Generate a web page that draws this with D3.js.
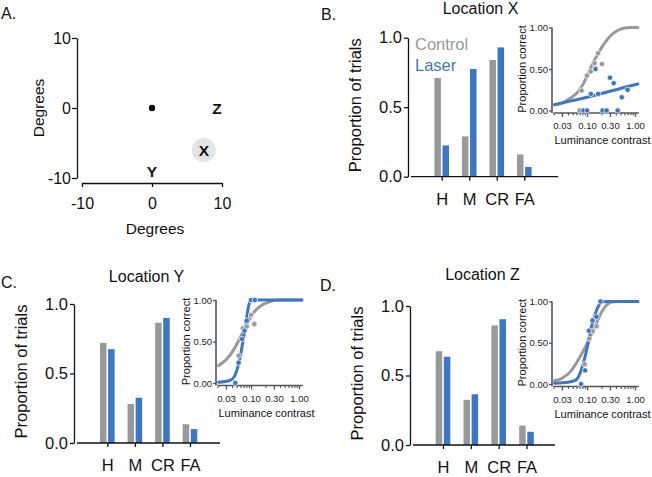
<!DOCTYPE html>
<html><head><meta charset="utf-8">
<script src="https://cdn.jsdelivr.net/npm/d3@7"></script>
<style>
body{margin:0;background:#fff}
svg{display:block;font-family:"Liberation Sans",Arial,Helvetica,sans-serif}
</style>
</head><body>
<svg id="chart" width="652" height="477"></svg>
<script>
// ---------------- data ----------------
// Panel A: map of stimulus locations (degrees)
const mapTicks = [-10, 0, 10];
const fixationX = [0];
const fixationY = [0];
const targetNames = ["X", "Y", "Z"];
const targetX = [7.4, 0, 9.3];
const targetY = [-6, -9.1, 0];
const targetHighlighted = [true, false, false];

// Bar charts: proportion of trials
const categories = ["H", "M", "CR", "FA"];
const seriesNames = ["Control", "Laser"];
const barTicks = [0, 0.5, 1.0];
const controlX = [0.71, 0.29, 0.84, 0.16];
const laserX   = [0.225, 0.775, 0.93, 0.07];
const controlY = [0.72, 0.28, 0.865, 0.135];
const laserY   = [0.675, 0.325, 0.90, 0.10];
const controlZ = [0.675, 0.325, 0.86, 0.14];
const laserZ   = [0.635, 0.365, 0.905, 0.095];

// Insets: proportion correct vs luminance contrast
const contrastTicks = [0.03, 0.1, 0.3, 1.0];
const contrastTickLabels = ["0.03", "0.10", "0.30", "1.00"];
const contrastMinorTicks = [0.02, 0.04, 0.05, 0.06, 0.07, 0.08, 0.09, 0.2, 0.4, 0.5, 0.6, 0.7, 0.8, 0.9];
const correctTicks = [0, 0.5, 1];
const correctTickLabels = ["0.00", "0.50", "1.00"];

// fitted curves: [contrast, proportion correct]
const fitControlX = [[0.021,0.07],[0.03,0.09],[0.045,0.15],[0.066,0.23],[0.085,0.33],[0.106,0.45],[0.13,0.56],[0.171,0.69],[0.23,0.81],[0.32,0.91],[0.45,0.97],[0.61,0.995],[0.8,1.0],[1.15,1.0]];
const fitLaserX   = [[0.021,0.07],[0.05,0.12],[0.1,0.16],[0.2,0.205],[0.4,0.25],[0.7,0.29],[1.15,0.32]];
const fitControlY = [[0.021,0.21],[0.03,0.28],[0.04,0.37],[0.053,0.49],[0.07,0.63],[0.085,0.73],[0.11,0.84],[0.16,0.93],[0.25,0.98],[0.36,1.0],[1.15,1.0]];
const fitLaserY   = [[0.021,0.01],[0.036,0.03],[0.045,0.08],[0.052,0.18],[0.06,0.33],[0.069,0.53],[0.079,0.74],[0.087,0.9],[0.095,0.98],[0.11,1.0],[1.15,1.0]];
const fitControlZ = [[0.021,0.04],[0.03,0.07],[0.045,0.15],[0.065,0.29],[0.085,0.41],[0.104,0.51],[0.125,0.61],[0.144,0.69],[0.175,0.80],[0.21,0.89],[0.26,0.96],[0.32,0.995],[0.45,1.0],[1.15,1.0]];
const fitLaserZ   = [[0.021,0.01],[0.04,0.02],[0.055,0.04],[0.065,0.08],[0.0755,0.17],[0.087,0.29],[0.098,0.41],[0.11,0.55],[0.123,0.69],[0.14,0.80],[0.157,0.89],[0.18,0.96],[0.2,0.995],[0.25,1.0],[1.15,1.0]];

// observed points
const ptsControlX = [[0.07,0],[0.077,0.24],[0.099,0.42],[0.119,0.47],[0.143,0.57],[0.17,0.69],[0.205,0.56]];
const ptsLaserX   = [[0.084,0],[0.10,0],[0.21,0],[0.255,0],[0.435,0],[0.15,0.5],[0.12,0.2],[0.17,0.2],[0.30,0.395],[0.36,0.33],[0.53,0.16],[0.70,0.25]];
const ptsControlY = [[0.055,0.33],[0.0675,0.66],[0.081,0.68],[0.1,0.82],[0.117,0.71]];
const ptsLaserY   = [[0.047,0],[0.055,0.245],[0.065,0.53],[0.073,0.63],[0.081,0.75],[0.1,1.0],[0.12,1.0]];
const ptsControlZ = [[0.089,0.24],[0.111,0.55],[0.131,0.64],[0.158,0.70]];
const ptsLaserZ   = [[0.075,0],[0.091,0.165],[0.109,0.645],[0.13,0.77],[0.157,0.815],[0.19,1.0]];

// ---------------- styles ----------------
const GRAY = "#999999";
const BLUE = "#3b77c4";
const FONT_BIG = 16;

const svg = d3.select("#chart");

function text(g, x, y, str, opts = {}) {
  const t = g.append("text").attr("x", x).attr("y", y).text(str)
    .attr("font-size", opts.size || FONT_BIG)
    .attr("fill", opts.fill || "#111")
    .attr("text-anchor", opts.anchor || "start");
  if (opts.weight) t.attr("font-weight", opts.weight);
  if (opts.rotate) t.attr("transform", `rotate(-90,${x},${y})`);
  if (opts.dy) t.attr("dy", opts.dy);
  return t;
}

// ---------------- Panel A ----------------
(function panelA() {
  const g = svg.append("g");
  const x = d3.scaleLinear().domain([-10, 10]).range([82, 222]);
  const y = d3.scaleLinear().domain([-10, 10]).range([178, 38]);

  text(g, 1, 19, "A.", {size: 16});

  const ya = g.append("g").attr("transform", "translate(77,0)")
    .call(d3.axisLeft(y).tickValues(mapTicks).tickFormat(d => String(d)).tickSize(5).tickSizeOuter(0).tickPadding(1));
  const xa = g.append("g").attr("transform", "translate(0,183)")
    .call(d3.axisBottom(x).tickValues(mapTicks).tickFormat(d => String(d)).tickSize(4).tickSizeOuter(0).tickPadding(11));
  [ya, xa].forEach(a => {
    a.selectAll("path,line").attr("stroke", "#111").attr("stroke-width", 1.3);
    a.selectAll("text").attr("font-size", 16).attr("fill", "#111").attr("font-family", null);
  });

  text(g, 39, 108, "Degrees", {anchor: "middle", rotate: true, dy: "0.35em", size: 15.5});
  text(g, 155, 234, "Degrees", {anchor: "middle", size: 15.5});

  // highlighted location circle
  g.selectAll("circle.hl").data(targetNames.filter((d, i) => targetHighlighted[i]))
    .enter().append("circle")
    .attr("cx", d => x(targetX[targetNames.indexOf(d)]))
    .attr("cy", d => y(targetY[targetNames.indexOf(d)]))
    .attr("r", 12).attr("fill", "#e4e4e4");

  // fixation point
  g.selectAll("circle.fix").data(fixationX).enter().append("circle")
    .attr("cx", (d) => x(d)).attr("cy", (d, i) => y(fixationY[i])).attr("r", 3.2).attr("fill", "#111");

  g.selectAll("text.loc").data(targetNames).enter().append("text")
    .attr("x", (d, i) => x(targetX[i])).attr("y", (d, i) => y(targetY[i]))
    .attr("dy", "0.36em").attr("text-anchor", "middle")
    .attr("font-size", 15.5).attr("font-weight", "bold").attr("fill", "#111")
    .text(d => d);
})();

// ---------------- Bar panels ----------------
function barPanel(cfg) {
  const g = svg.append("g");
  const y = d3.scaleLinear().domain([0, 1]).range([cfg.yBot, cfg.yTop]);
  const x = d3.scalePoint().domain(categories).range([cfg.catL, cfg.catR]);

  text(g, cfg.letterX, cfg.letterY, cfg.letter, {size: 16});
  text(g, cfg.axisX + 72.5, cfg.titleY, cfg.title, {anchor: "middle", size: 16});

  // bars
  const series = [cfg.ctrl, cfg.laser];
  const colors = [GRAY, BLUE];
  const offs = [-7.3, 0.8];
  series.forEach((vals, si) => {
    g.selectAll(null).data(categories).enter().append("rect")
      .attr("x", d => x(d) + offs[si]).attr("width", 6.5)
      .attr("y", (d, i) => y(vals[i]))
      .attr("height", (d, i) => y(0) - y(vals[i]))
      .attr("fill", colors[si]);
  });

  // y axis
  const ya = g.append("g").attr("transform", `translate(${cfg.axisX},0)`)
    .call(d3.axisLeft(y).tickValues(barTicks).tickFormat(d3.format(".1f")).tickSize(4).tickSizeOuter(0).tickPadding(2));
  ya.selectAll("path,line").attr("stroke", "#111").attr("stroke-width", 1.3);
  ya.selectAll("text").attr("font-size", 16.5).attr("fill", "#111").attr("font-family", null);

  // x axis: baseline + category ticks
  g.append("line").attr("x1", cfg.axisX + 3).attr("x2", cfg.endX)
    .attr("y1", cfg.yBot).attr("y2", cfg.yBot).attr("stroke", "#111").attr("stroke-width", 1.3);
  const xa = g.append("g").attr("transform", `translate(0,${cfg.yBot})`)
    .call(d3.axisBottom(x).tickSize(4).tickSizeOuter(0).tickPadding(12.5));
  xa.select("path.domain").remove();
  xa.selectAll("line").attr("stroke", "#111").attr("stroke-width", 1.3);
  xa.selectAll("text").attr("font-size", 16.5).attr("fill", "#111").attr("font-family", null);

  text(g, cfg.axisX - 53, (cfg.yTop + cfg.yBot) / 2 - 2, "Proportion of trials",
       {anchor: "middle", rotate: true, dy: "0.35em", size: 16.5});

  if (cfg.legend) {
    seriesNames.forEach((s, i) => {
      text(g, cfg.axisX + 7, cfg.yTop + 12.5 + i * 21, s, {fill: colors[i], size: 16.5});
    });
  }
}

// ---------------- Inset panels ----------------
function insetPanel(cfg) {
  const g = svg.append("g");
  const x = d3.scaleLog().domain([0.03, 1]).range([cfg.axisX + 10, cfg.axisX + 83]);
  const y = d3.scaleLinear().domain([0, 1]).range([cfg.yBot, cfg.yTop]);
  const xAxisY = cfg.yBot + 2.5;
  const axisColor = "#555";

  // x axis
  g.append("line").attr("x1", x(0.02)).attr("x2", x(1.2)).attr("y1", xAxisY).attr("y2", xAxisY)
    .attr("stroke", axisColor).attr("stroke-width", 1.5);
  const xaMinor = g.append("g").attr("transform", `translate(0,${xAxisY})`)
    .call(d3.axisBottom(x).tickValues(contrastMinorTicks).tickSize(2.5).tickSizeOuter(0).tickFormat(""));
  xaMinor.select("path.domain").remove();
  xaMinor.selectAll("line").attr("stroke", axisColor).attr("stroke-width", 1.1);
  const xa = g.append("g").attr("transform", `translate(0,${xAxisY})`)
    .call(d3.axisBottom(x).tickValues(contrastTicks).tickSize(4).tickSizeOuter(0)
      .tickFormat((d, i) => contrastTickLabels[i]).tickPadding(5.5));
  xa.select("path.domain").remove();
  xa.selectAll("line").attr("stroke", axisColor).attr("stroke-width", 1.3);
  xa.selectAll("text").attr("font-size", 9.5).attr("fill", "#222").attr("font-family", null);

  // y axis
  const ya = g.append("g").attr("transform", `translate(${cfg.axisX},0)`)
    .call(d3.axisLeft(y).tickValues(correctTicks).tickSize(3).tickSizeOuter(0)
      .tickFormat((d, i) => correctTickLabels[i]).tickPadding(1));
  ya.select("path.domain").attr("stroke", axisColor).attr("stroke-width", 1.6)
    .attr("d", `M0,${y(1)}V${xAxisY}`);
  ya.selectAll("line").attr("stroke", axisColor).attr("stroke-width", 1.3);
  ya.selectAll("text").attr("font-size", 9.5).attr("fill", "#222").attr("font-family", null);

  text(g, cfg.axisX - 30, (cfg.yTop + cfg.yBot) / 2, "Proportion correct",
       {anchor: "middle", rotate: true, dy: "0.35em", size: 11});
  text(g, cfg.axisX + 50.5, xAxisY + 31, "Luminance contrast", {anchor: "middle", size: 11});

  const line = d3.line().x(d => x(d[0])).y(d => y(d[1])).curve(d3.curveMonotoneX);
  g.append("path").datum(cfg.fitC).attr("d", line).attr("fill", "none")
    .attr("stroke", GRAY).attr("stroke-width", 3).attr("stroke-linecap", "round");
  g.append("path").datum(cfg.fitL).attr("d", line).attr("fill", "none")
    .attr("stroke", BLUE).attr("stroke-width", 3).attr("stroke-linecap", "round");

  [[cfg.ptsC, GRAY], [cfg.ptsL, BLUE]].forEach(([pts, col]) => {
    g.selectAll(null).data(pts).enter().append("circle")
      .attr("cx", d => x(d[0])).attr("cy", d => y(d[1])).attr("r", 2.7)
      .attr("fill", col).attr("stroke", "#fff").attr("stroke-width", 0.7);
  });
}

// Panel B
barPanel({letter: "B.", letterX: 321, letterY: 20, title: "Location X", titleY: 14,
  axisX: 408, yTop: 37.7, yBot: 176.7, catL: 441.7, catR: 524.3, endX: 558,
  ctrl: controlX, laser: laserX, legend: true});
insetPanel({axisX: 552, yTop: 27.5, yBot: 110.5, fitC: fitControlX, fitL: fitLaserX, ptsC: ptsControlX, ptsL: ptsLaserX});

// Panel C
barPanel({letter: "C.", letterX: 1, letterY: 288, title: "Location Y", titleY: 282,
  axisX: 74, yTop: 304, yBot: 443, catL: 107.3, catR: 190, endX: 220,
  ctrl: controlY, laser: laserY, legend: false});
insetPanel({axisX: 216, yTop: 300, yBot: 383, fitC: fitControlY, fitL: fitLaserY, ptsC: ptsControlY, ptsL: ptsLaserY});

// Panel D
barPanel({letter: "D.", letterX: 320, letterY: 291, title: "Location Z", titleY: 280,
  axisX: 410, yTop: 306, yBot: 445, catL: 443, catR: 526.5, endX: 555,
  ctrl: controlZ, laser: laserZ, legend: false});
insetPanel({axisX: 552, yTop: 301.5, yBot: 384, fitC: fitControlZ, fitL: fitLaserZ, ptsC: ptsControlZ, ptsL: ptsLaserZ});
</script>
</body></html>
